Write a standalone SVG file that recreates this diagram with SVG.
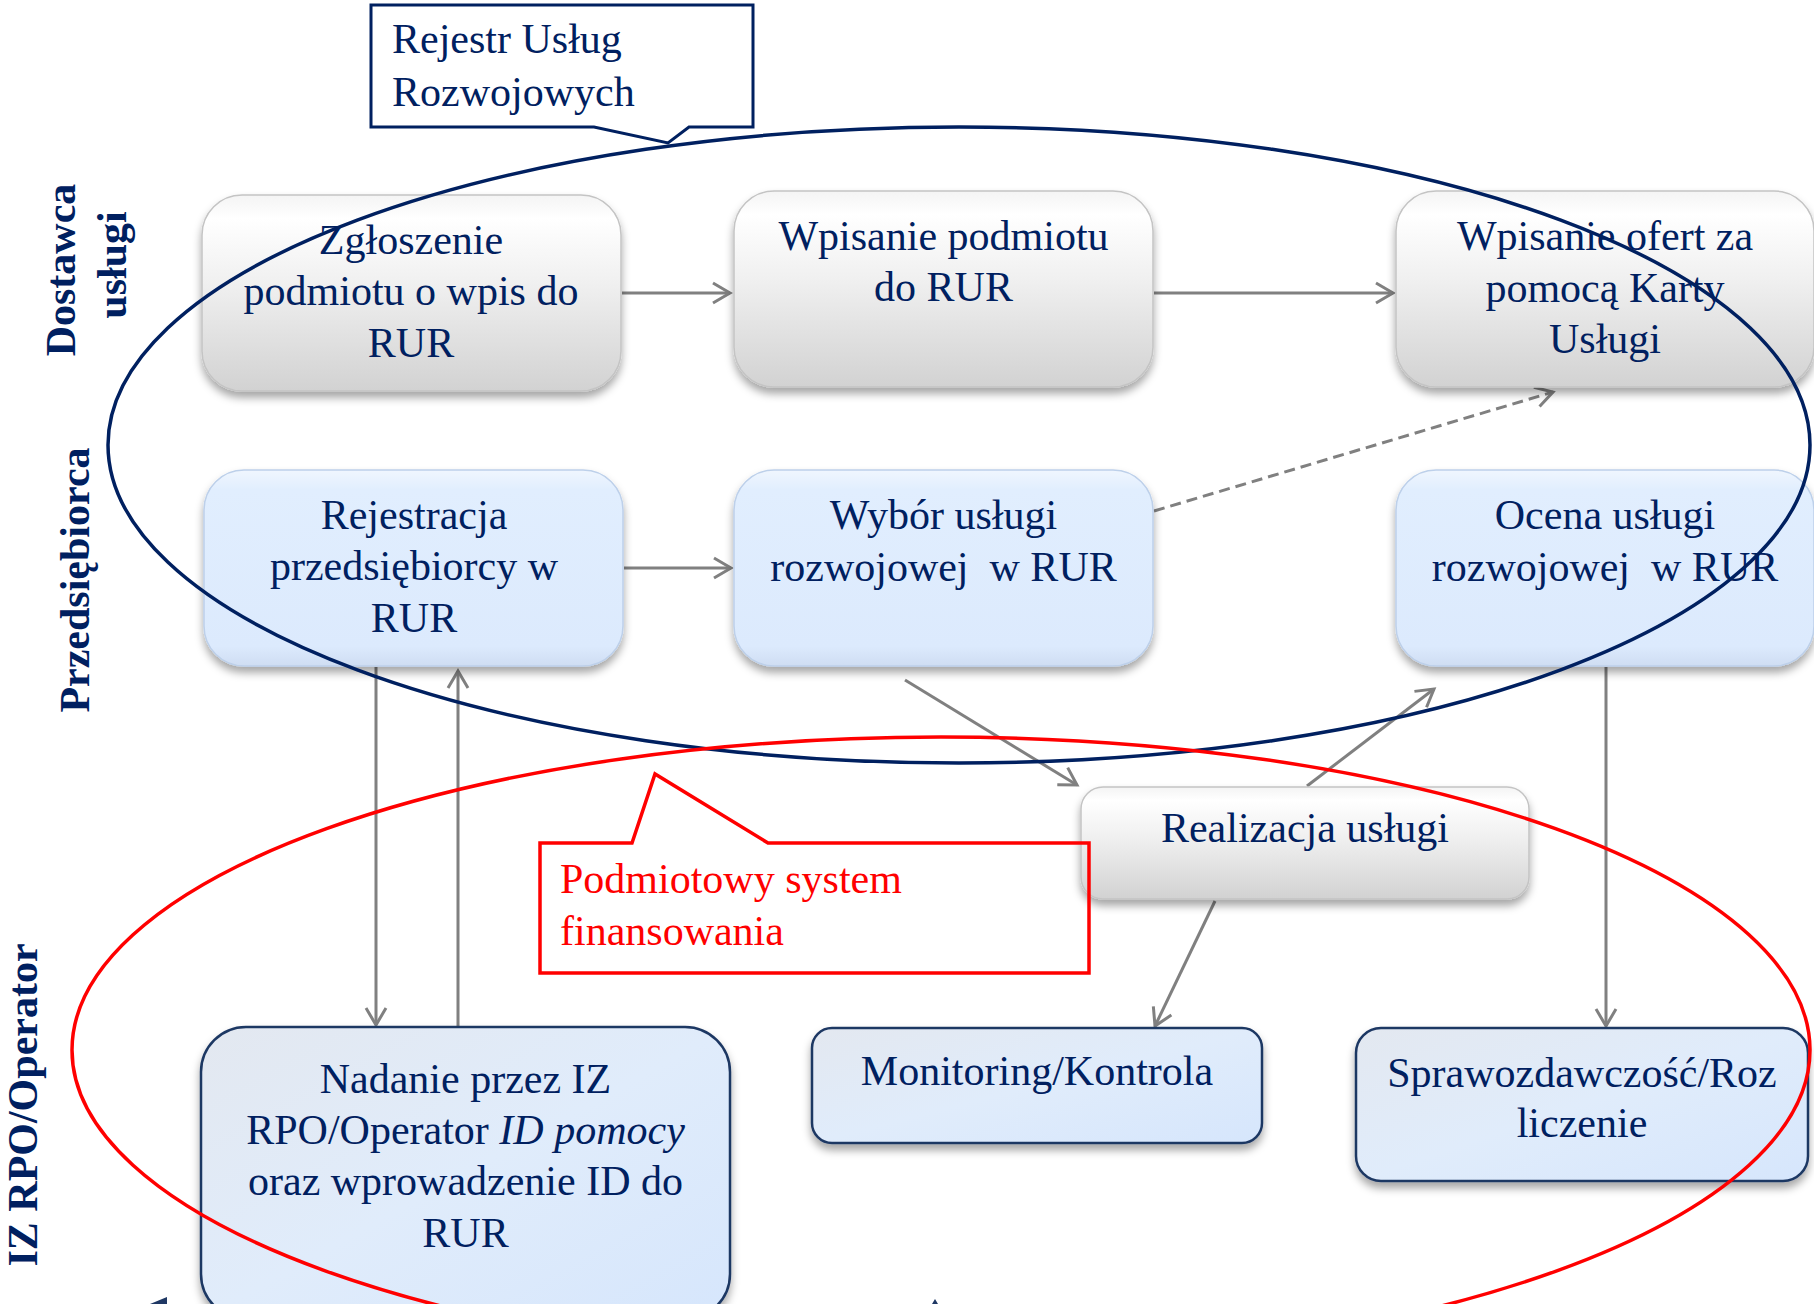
<svg xmlns="http://www.w3.org/2000/svg" width="1814" height="1304" viewBox="0 0 1814 1304">
<defs>
<style>
.t{font-family:"Liberation Serif","Times New Roman",serif;font-size:42px;fill:#002060;text-anchor:middle}
.lab{font-family:"Liberation Serif","Times New Roman",serif;font-size:42px;font-weight:bold;fill:#002060;text-anchor:middle}
.ct{font-family:"Liberation Serif","Times New Roman",serif;font-size:42px;fill:#002060}
.rt{font-family:"Liberation Serif","Times New Roman",serif;font-size:42px;fill:#FF0000}
.gray{fill:url(#gGray);stroke:#C4C4C4;stroke-width:1.5}
.blue{fill:url(#gBlue);stroke:#BDD0EA;stroke-width:1.5}
.dark{fill:url(#gDark);stroke:#1F3864;stroke-width:2.5}
.c{fill:none;stroke:#808080;stroke-width:3;marker-end:url(#arr)}
</style>
<linearGradient id="gGray" x1="0" y1="0" x2="0" y2="1">
<stop offset="0" stop-color="#F4F4F4"/>
<stop offset="0.12" stop-color="#FFFFFF"/>
<stop offset="0.45" stop-color="#F0F0F0"/>
<stop offset="1" stop-color="#D2D2D2"/>
</linearGradient>
<linearGradient id="gBlue" x1="0" y1="0" x2="0" y2="1">
<stop offset="0" stop-color="#F0F6FE"/>
<stop offset="0.1" stop-color="#E1EEFE"/>
<stop offset="0.9" stop-color="#DCEAFD"/>
<stop offset="1" stop-color="#CFDDF2"/>
</linearGradient>
<linearGradient id="gDark" x1="0" y1="0" x2="1" y2="1">
<stop offset="0" stop-color="#E3E8F0"/>
<stop offset="0.5" stop-color="#E0ECFB"/>
<stop offset="1" stop-color="#D6E6FC"/>
</linearGradient>
<filter id="sh" x="-10%" y="-10%" width="120%" height="130%">
<feDropShadow dx="0" dy="6" stdDeviation="4" flood-color="#000" flood-opacity="0.35"/>
</filter>
<marker id="arr" markerUnits="userSpaceOnUse" markerWidth="24" markerHeight="24" viewBox="-20 -12 24 24" refX="0" refY="0" orient="auto">
<path d="M-17,-10 L0,0 L-17,10" fill="none" stroke="#808080" stroke-width="3"/>
</marker>
</defs>
<rect width="1814" height="1304" fill="#FFFFFF"/>

<g id="labels">
<text class="lab" transform="translate(75,270) rotate(-90)">Dostawca</text>
<text class="lab" transform="translate(126,265) rotate(-90)">usługi</text>
<text class="lab" transform="translate(89,580) rotate(-90)">Przedsiębiorca</text>
<text class="lab" transform="translate(37,1105) rotate(-90)">IZ RPO/Operator</text>
</g>

<g id="connectors">
<line class="c" x1="622" y1="293" x2="730" y2="293"/>
<line class="c" x1="1154" y1="293" x2="1393" y2="293"/>
<line class="c" x1="624" y1="568" x2="731" y2="568"/>
<line class="c" x1="1154" y1="511" x2="1553" y2="392" stroke-dasharray="11 6"/>
<line class="c" x1="376" y1="667" x2="376" y2="1025" stroke-width="2.5"/>
<line class="c" x1="458" y1="1027" x2="458" y2="671" stroke-width="2.5"/>
<line class="c" x1="905" y1="680" x2="1077" y2="785"/>
<line class="c" x1="1307" y1="786" x2="1434" y2="689"/>
<line class="c" x1="1215" y1="901" x2="1155" y2="1026"/>
<line class="c" x1="1606" y1="667" x2="1606" y2="1026" stroke-width="2.5"/>
</g>

<g id="n1" filter="url(#sh)"><rect class="gray" x="202" y="195" width="419" height="196" rx="40"/></g>
<g id="n1t"><text class="t" x="411" y="254">Zgłoszenie</text><text class="t" x="411" y="305">podmiotu o wpis do</text><text class="t" x="411" y="357">RUR</text></g>

<g id="n2" filter="url(#sh)"><rect class="gray" x="734" y="191" width="419" height="196" rx="40"/></g>
<g id="n2t"><text class="t" x="943.5" y="250">Wpisanie podmiotu</text><text class="t" x="943.5" y="301">do RUR</text></g>

<g id="n3" filter="url(#sh)"><rect class="gray" x="1396" y="191" width="418" height="196" rx="40"/></g>
<g id="n3t"><text class="t" x="1605" y="250">Wpisanie ofert za</text><text class="t" x="1605" y="302">pomocą Karty</text><text class="t" x="1605" y="353">Usługi</text></g>

<g id="n4" filter="url(#sh)"><rect class="blue" x="204" y="470" width="419" height="196" rx="40"/></g>
<g id="n4t"><text class="t" x="414" y="529">Rejestracja</text><text class="t" x="414" y="580">przedsiębiorcy w</text><text class="t" x="414" y="632">RUR</text></g>

<g id="n5" filter="url(#sh)"><rect class="blue" x="734" y="470" width="419" height="196" rx="40"/></g>
<g id="n5t"><text class="t" x="943.5" y="529">Wybór usługi</text><text class="t" x="943.5" y="581" xml:space="preserve">rozwojowej  w RUR</text></g>

<g id="n6" filter="url(#sh)"><rect class="blue" x="1396" y="470" width="418" height="196" rx="40"/></g>
<g id="n6t"><text class="t" x="1605" y="529">Ocena usługi</text><text class="t" x="1605" y="581" xml:space="preserve">rozwojowej  w RUR</text></g>

<g id="n7" filter="url(#sh)"><rect class="gray" x="1081" y="787" width="448" height="112" rx="22"/></g>
<g id="n7t"><text class="t" x="1305" y="842">Realizacja usługi</text></g>

<g id="n8" filter="url(#sh)"><rect class="dark" x="201" y="1027" width="529" height="292" rx="45"/></g>
<g id="n8t"><text class="t" x="465.5" y="1093">Nadanie przez IZ</text><text class="t" x="465.5" y="1144">RPO/Operator <tspan font-style="italic">ID pomocy</tspan></text><text class="t" x="465.5" y="1195">oraz wprowadzenie ID do</text><text class="t" x="465.5" y="1247">RUR</text></g>

<g id="n9" filter="url(#sh)"><rect class="dark" x="812" y="1028" width="450" height="115" rx="20"/></g>
<g id="n9t"><text class="t" x="1037" y="1085">Monitoring/Kontrola</text></g>

<g id="n10" filter="url(#sh)"><rect class="dark" x="1356" y="1028" width="452" height="153" rx="25"/></g>
<g id="n10t"><text class="t" x="1582" y="1087">Sprawozdawczość/Roz</text><text class="t" x="1582" y="1137">liczenie</text></g>

<g id="groups">
<ellipse cx="959" cy="445" rx="851" ry="318" fill="none" stroke="#002060" stroke-width="3.5"/>
<ellipse cx="941" cy="1050" rx="869" ry="313" fill="none" stroke="#FF0000" stroke-width="3.5"/>
</g>

<g id="callout-rur">
<path d="M371,5 H753 V127 H689 L668,143 L594,127 H371 Z" fill="#FFFFFF" stroke="#002060" stroke-width="3" stroke-linejoin="miter"/>
<text class="ct" x="392" y="53">Rejestr Usług</text>
<text class="ct" x="392" y="106">Rozwojowych</text>
</g>

<g id="callout-psf">
<path d="M540,843 H632 L655,774 L768,843 H1089 V973 H540 Z" fill="none" stroke="#FF0000" stroke-width="3.5"/>
<text class="rt" x="560" y="893">Podmiotowy system</text>
<text class="rt" x="560" y="945">finansowania</text>
</g>

<g id="fragments">
<path d="M150,1304 L167,1297 L167,1304 Z" fill="#1F3864"/>
<path d="M932,1304 L935,1299 L938,1304 Z" fill="#1F3864"/>
</g>
</svg>
